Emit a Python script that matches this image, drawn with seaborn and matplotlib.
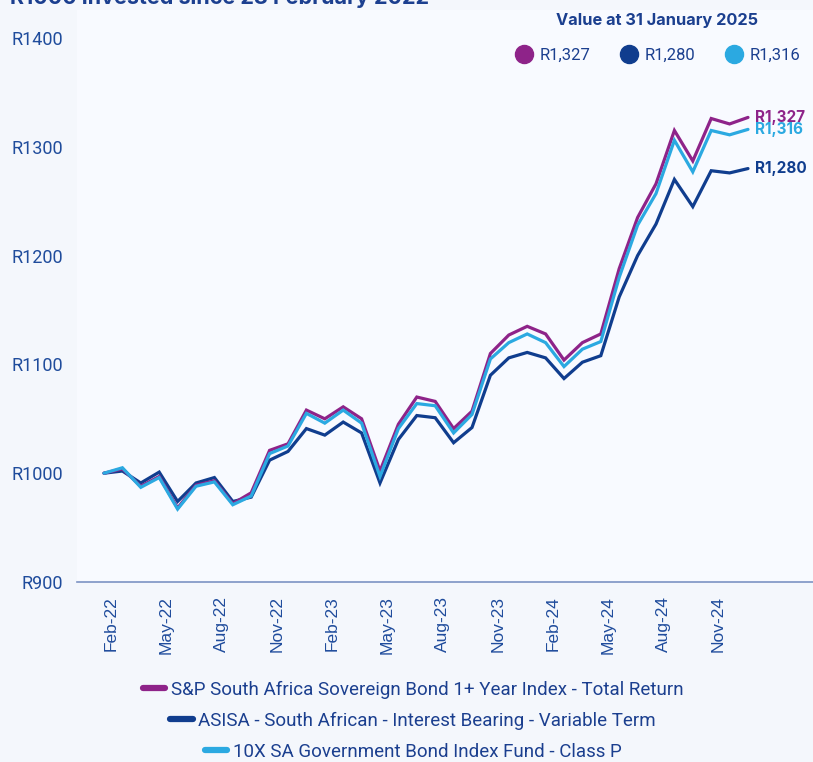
import matplotlib
matplotlib.use("Agg")
import matplotlib.pyplot as plt
from matplotlib.lines import Line2D
import seaborn as sns
import pandas as pd

# ---- data ----
series_names = [
    "S&P South Africa Sovereign Bond 1+ Year Index - Total Return",
    "ASISA - South African - Interest Bearing - Variable Term",
    "10X SA Government Bond Index Fund - Class P",
]
sp_index = [1000, 1004, 988, 997, 968, 989, 993, 972, 982, 1021, 1027, 1058, 1050, 1061, 1050, 1002,
            1045, 1070, 1066, 1041, 1057, 1110, 1127, 1135, 1128, 1104, 1120, 1128, 1188, 1235, 1266,
            1315, 1287, 1326, 1321, 1327]
asisa = [1000, 1002, 991, 1001, 974, 991, 996, 974, 978, 1012, 1020, 1041, 1035, 1047, 1037, 991,
         1031, 1053, 1051, 1028, 1042, 1090, 1106, 1111, 1106, 1087, 1102, 1108, 1162, 1200, 1229,
         1270, 1245, 1278, 1276, 1280]
fund_10x = [1000, 1005, 987, 996, 967, 988, 992, 971, 979, 1018, 1025, 1055, 1046, 1058, 1046, 997,
            1041, 1064, 1062, 1037, 1054, 1105, 1120, 1128, 1120, 1098, 1114, 1121, 1180, 1228, 1257,
            1306, 1277, 1315, 1311, 1316]
end_labels = ["R1,327", "R1,280", "R1,316"]
tick_labels = ["Feb-22", "May-22", "Aug-22", "Nov-22", "Feb-23", "May-23", "Aug-23", "Nov-23",
               "Feb-24", "May-24", "Aug-24", "Nov-24"]
y_ticks = [900, 1000, 1100, 1200, 1300, 1400]
legend_title = "Value at 31 January 2025"
chart_title = "R1000 invested since 28 February 2022"

colors = ["#8E2389", "#103D8E", "#2BA9E1"]
navy = "#1B3F8F"
label_col = "#1F4C9C"
bg = "#F4F7FC"

values = [sp_index, asisa, fund_10x]
rows = []
for name, vals in zip(series_names, values):
    for i, v in enumerate(vals):
        rows.append({"idx": i, "value": v, "series": name})
df = pd.DataFrame(rows)

sns.set_theme(style="white")
plt.rcParams["font.family"] = ["Roboto", "DejaVu Sans"]

W, H = 813, 762
fig = plt.figure(figsize=(W / 100, H / 100), dpi=100, facecolor=bg)
ax = fig.add_axes([77 / W, 1 - 582 / H, 1 - 77 / W, (582 - 10) / H])
ax.set_facecolor("#F8FAFF")

sns.lineplot(data=df, x="idx", y="value", hue="series", hue_order=series_names,
             palette=colors, linewidth=2.3, ax=ax, legend=False)
for line, z in zip(ax.get_lines(), [3, 2, 4]):
    line.set_zorder(z)
    line.set_solid_joinstyle("miter")

n = len(sp_index)
ppu = (582 - 38) / 500.0
ax.set_ylim(900, 1400 + (38 - 10) / ppu)
ax.set_xlim(-(104 - 77) / 18.4, (W - 104) / 18.4)
ax.set_yticks(y_ticks)
ax.set_yticklabels([f"R{v}" for v in y_ticks], fontsize=13, color=label_col)
ax.set_xticks([i + 0.4 for i in range(0, n - 2, 3)])
ax.set_xticklabels(tick_labels, rotation=90, fontsize=12.5, color=label_col,
                   fontfamily="Liberation Sans")
ax.tick_params(axis="y", length=0, pad=10)
ax.tick_params(axis="x", length=0, pad=10)
ax.set_xlabel("")
ax.set_ylabel("")
for s in ["top", "right", "left"]:
    ax.spines[s].set_visible(False)
ax.spines["bottom"].set_color("#7C93C3")
ax.spines["bottom"].set_linewidth(1.2)

# end labels
for vals, lab, c in zip(values, end_labels, colors):
    ax.annotate(lab, xy=(n - 1, vals[-1]), xytext=(5, 0), textcoords="offset points",
                va="center", ha="left", fontsize=11, fontweight="bold", color=c,
                fontfamily="Inter", annotation_clip=False)

# title (cut off at the top)
fig.text(10 / W, 1 - 4 / H, chart_title, ha="left", va="baseline", fontsize=15.5,
         fontweight="bold", color=navy, fontfamily="Inter")

# top-right value legend
fig.text(657 / W, 1 - 20 / H, legend_title, ha="center", va="center", fontsize=11.8,
         fontweight="bold", color=navy, fontfamily="Inter")
handles = [Line2D([], [], marker="o", ls="", ms=13, color=c) for c in colors]
leg1 = fig.legend(handles, end_labels, ncol=3, loc="center", frameon=False,
                  bbox_to_anchor=(658 / W, 1 - 55 / H),
                  fontsize=12, handletextpad=0.45, columnspacing=1.82, handlelength=1.0)
for t in leg1.get_texts():
    t.set_color(navy)

# bottom legend: one centered row per series
row_y = [690, 721, 752]
for name, c, yy in zip(series_names, colors, row_y):
    h = Line2D([], [], color=c, lw=4.5, solid_capstyle="round")
    lg = fig.legend([h], [name], loc="center", frameon=False,
                    bbox_to_anchor=(413 / W, 1 - yy / H), fontsize=13.5,
                    handlelength=1.2, handletextpad=0.3, borderpad=0, borderaxespad=0)
    for t in lg.get_texts():
        t.set_color(navy)

fig.savefig("out.png", dpi=100, facecolor=bg)
